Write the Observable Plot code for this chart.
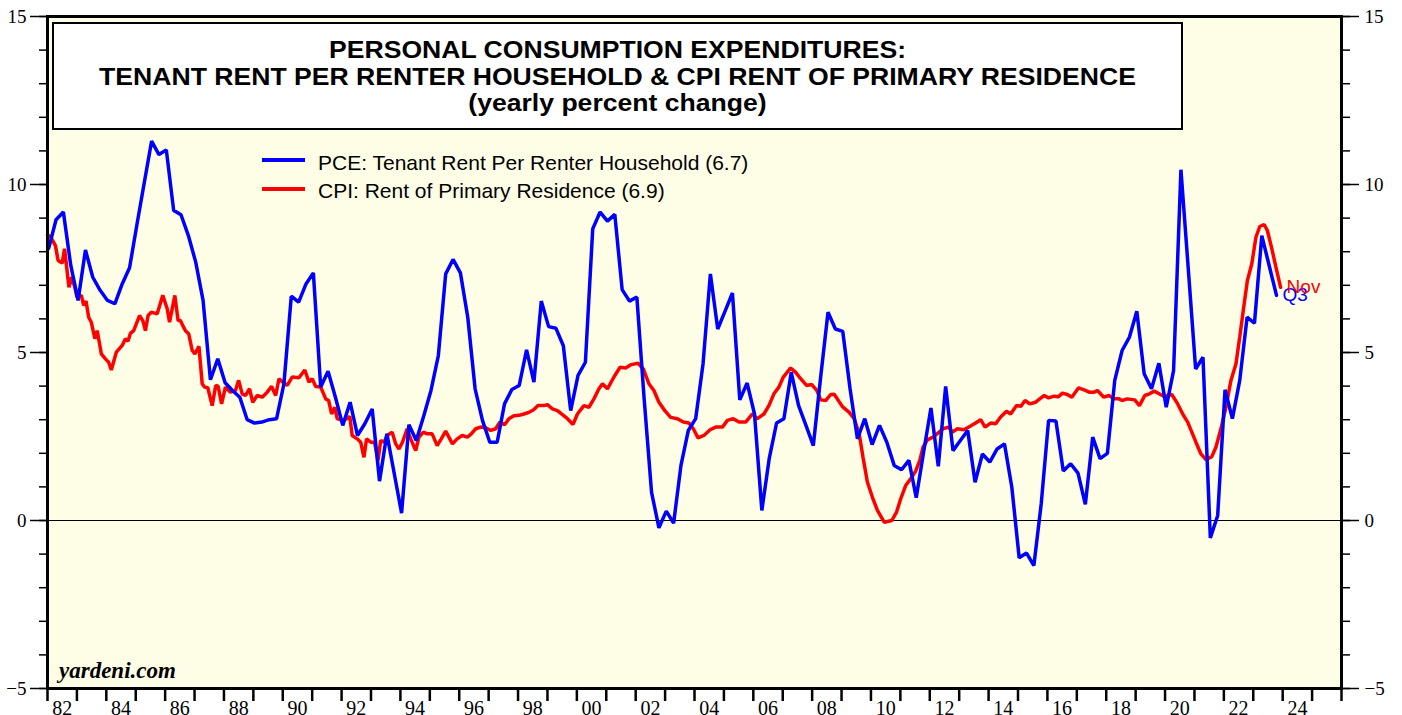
<!DOCTYPE html>
<html>
<head>
<meta charset="utf-8">
<script src="https://cdn.jsdelivr.net/npm/d3@7"></script>
<script src="https://cdn.jsdelivr.net/npm/@observablehq/plot@0.6"></script>
<style>
  html, body { margin: 0; padding: 0; background: #ffffff; }
  #wrap { position: relative; width: 1402px; height: 715px; overflow: hidden; }
  #wrap svg { position: absolute; left: 0; top: 0; }
  .titlebox {
    position: absolute; left: 52px; top: 22px; width: 1131px; height: 108px;
    box-sizing: border-box; border: 2px solid #000; background: #ffffff;
    padding-top: 13px; text-align: center; color: #000;
    font: bold 24.5px "Liberation Sans", Arial, Helvetica, sans-serif; line-height: 26.5px;
  }
  .titlebox div { transform: scaleX(1.085); transform-origin: 50% 50%; white-space: nowrap; }
  .legline { position: absolute; height: 4px; width: 43px; left: 262px; }
  .legtext { position: absolute; left: 318px; font: 21px "Liberation Sans", Arial, sans-serif; line-height: 21px; color: #000; white-space: nowrap; }
  .brand { position: absolute; left: 59px; top: 659px; font: italic bold 23px "Liberation Serif", "Times New Roman", serif; line-height: 23px; color: #000; }
</style>
</head>
<body>
<div id="wrap">
  <div id="chart"></div>
</div>
<script>
// ---------------- DATA ----------------
const titleLines = [
  "PERSONAL CONSUMPTION EXPENDITURES:",
  "TENANT RENT PER RENTER HOUSEHOLD & CPI RENT OF PRIMARY RESIDENCE",
  "(yearly percent change)"
];
const seriesNames = [
  "PCE: Tenant Rent Per Renter Household (6.7)",
  "CPI: Rent of Primary Residence (6.9)"
];
const seriesColors = ["#0000ff", "#ff0000"];
const endLabels = ["Q3", "Nov"];
const brandText = "yardeni.com";

// PCE tenant rent per renter household, yearly % change, quarterly, from 1981 Q4 to 2023 Q3
const pceStartYear = 1981;
const pceStartQuarter = 4;
const pceRent = [
  8.1, 8.95, 9.18, 7.6,
  6.55, 8.05, 7.24, 6.85,
  6.55, 6.45, 7.04, 7.52,
  8.8, 10.05, 11.29, 10.89,
  11.03, 9.23, 9.1, 8.48,
  7.69, 6.55, 4.19, 4.81,
  4.1, 3.87, 3.67, 3.0,
  2.9, 2.93, 3.0, 3.03,
  4.07, 6.68, 6.5, 7.04,
  7.37, 3.97, 4.44, 3.67,
  2.83, 3.52, 2.53, 2.88,
  3.32, 1.17, 2.58, 1.4,
  0.22, 2.85, 2.38, 3.1,
  3.87, 4.91, 7.34, 7.77,
  7.37, 6.05, 3.92, 2.98,
  2.33, 2.33, 3.47, 3.9,
  4.02, 5.08, 4.12, 6.53,
  5.77, 5.72, 5.2, 3.27,
  4.32, 4.71, 8.68, 9.18,
  8.91, 9.11, 6.87, 6.53,
  6.65, 3.6, 0.84, -0.22,
  0.28, -0.08, 1.64, 2.68,
  3.03, 4.66, 7.34, 5.7,
  6.23, 6.77, 3.59, 4.09,
  3.17, 0.3, 1.84, 2.9,
  3.03, 4.41, 3.42, 2.83,
  2.23, 4.27, 6.2, 5.7,
  5.63, 3.92, 2.43, 3.03,
  2.26, 2.83, 2.33, 1.64,
  1.51, 1.79, 0.68, 2.03,
  3.35, 1.61, 3.99, 2.08,
  2.38, 2.68, 1.14, 1.98,
  1.74, 2.13, 2.28, 0.99,
  -1.11, -0.97, -1.34, 0.5,
  2.98, 2.96, 1.47, 1.69,
  1.41, 0.48, 2.48, 1.84,
  2.0, 4.17, 5.06, 5.46,
  6.23, 4.37, 3.92, 4.68,
  3.37, 4.46, 10.44, 7.49,
  4.51, 4.86, -0.52, 0.15,
  3.89, 3.03, 4.17, 6.05,
  5.87, 8.48, 7.59, 6.7
];

// CPI rent of primary residence, yearly % change (dates as decimal years)
const cpiDates = [
  1982.0, 1982.1, 1982.27, 1982.36, 1982.5, 1982.58, 1982.73, 1982.82, 1982.93,
  1983.0, 1983.15, 1983.23, 1983.31, 1983.4, 1983.49, 1983.61, 1983.69, 1983.77, 1983.83, 1983.97,
  1984.08, 1984.17, 1984.34, 1984.54, 1984.65, 1984.74, 1984.82, 1984.93,
  1985.02, 1985.13, 1985.24, 1985.33, 1985.42, 1985.53, 1985.73, 1985.92,
  1986.07, 1986.15, 1986.33, 1986.44, 1986.52, 1986.6, 1986.69, 1986.8, 1986.92,
  1987.01, 1987.15, 1987.26, 1987.34, 1987.45, 1987.6, 1987.72, 1987.8, 1987.92,
  1988.05, 1988.22, 1988.39, 1988.5, 1988.62, 1988.73, 1988.87, 1988.98,
  1989.13, 1989.3, 1989.47, 1989.62, 1989.76, 1989.87,
  1990.0, 1990.15, 1990.32, 1990.55, 1990.75, 1990.89,
  1991.0, 1991.12, 1991.29, 1991.46, 1991.56, 1991.66, 1991.77, 1991.85,
  1992.02, 1992.19, 1992.28, 1992.36, 1992.53, 1992.65, 1992.76, 1992.85, 1992.99,
  1993.12, 1993.24, 1993.33, 1993.44, 1993.55, 1993.72, 1993.84, 1993.95,
  1994.07, 1994.23, 1994.35, 1994.52, 1994.63, 1994.78, 1994.91,
  1995.08, 1995.25, 1995.39, 1995.54, 1995.77, 1995.93,
  1996.1, 1996.28, 1996.41, 1996.56, 1996.73, 1996.9,
  1997.07, 1997.24, 1997.38, 1997.54, 1997.69, 1997.86,
  1998.03, 1998.2, 1998.37, 1998.52, 1998.68, 1998.88,
  1999.0, 1999.17, 1999.34, 1999.51, 1999.68, 1999.87,
  2000.02, 2000.24, 2000.41, 2000.58, 2000.75, 2000.87,
  2001.04, 2001.26, 2001.47, 2001.66, 2001.85,
  2002.08, 2002.26, 2002.45, 2002.62, 2002.79, 2002.99,
  2003.19, 2003.42, 2003.62, 2003.81, 2003.96,
  2004.12, 2004.32, 2004.53, 2004.72, 2004.95,
  2005.12, 2005.32, 2005.51, 2005.74, 2005.97,
  2006.14, 2006.36, 2006.53, 2006.7, 2006.87,
  2007.02, 2007.27, 2007.44, 2007.61, 2007.81, 2007.98,
  2008.16, 2008.29, 2008.46, 2008.63, 2008.75,
  2009.03, 2009.26, 2009.43, 2009.6, 2009.73, 2009.88,
  2010.05, 2010.22, 2010.45, 2010.71, 2010.87,
  2011.01, 2011.18, 2011.35, 2011.52, 2011.66, 2011.77, 2011.92,
  2012.11, 2012.32, 2012.45, 2012.64, 2012.77, 2012.94,
  2013.16, 2013.36, 2013.56, 2013.73, 2013.88,
  2014.07, 2014.24, 2014.41, 2014.61, 2014.75, 2014.95,
  2015.1, 2015.24, 2015.4, 2015.6, 2015.74, 2015.89,
  2016.04, 2016.23, 2016.37, 2016.51, 2016.68, 2016.83,
  2017.06, 2017.25, 2017.42, 2017.59, 2017.7, 2017.92,
  2018.09, 2018.27, 2018.44, 2018.54, 2018.71, 2018.97,
  2019.13, 2019.31, 2019.47, 2019.63, 2019.8, 2019.97,
  2020.23, 2020.43, 2020.6, 2020.77, 2020.91,
  2021.05, 2021.22, 2021.39, 2021.59, 2021.73, 2021.9,
  2022.07, 2022.24, 2022.41, 2022.54, 2022.66, 2022.8, 2022.95,
  2023.09, 2023.22, 2023.37, 2023.48, 2023.62, 2023.77, 2023.93
];
const cpiValues = [
  8.5, 8.45, 8.18, 7.74, 7.66, 8.09, 6.94, 7.24, 6.94,
  6.65, 6.7, 6.4, 6.53, 6.05, 5.9, 5.41, 5.65, 5.26, 4.96, 4.81,
  4.71, 4.48, 5.01, 5.21, 5.41, 5.34, 5.57, 5.65,
  5.85, 6.1, 5.95, 5.65, 6.1, 6.2, 6.15, 6.7,
  6.3, 5.9, 6.7, 5.95, 5.95, 5.8, 5.65, 5.56, 5.06,
  4.96, 5.18, 4.07, 3.97, 3.95, 3.42, 4.02, 4.0, 3.47,
  3.97, 3.82, 3.87, 4.17, 3.77, 3.72, 3.92, 3.52,
  3.72, 3.67, 3.82, 3.99, 3.72, 4.22,
  4.12, 4.02, 4.27, 4.25, 4.48, 4.12,
  4.22, 3.99, 3.97, 3.62, 3.57, 3.17, 3.37, 3.03,
  2.98, 3.03, 3.1, 2.53, 2.43, 2.33, 1.88, 2.43, 2.33,
  2.33, 1.79, 2.38, 2.33, 2.53, 2.63, 2.28, 2.13,
  2.33, 2.73, 2.43, 2.08, 2.48, 2.63, 2.58,
  2.58, 2.23, 2.43, 2.66, 2.28, 2.43,
  2.53, 2.48, 2.58, 2.73, 2.78, 2.76,
  2.68, 2.73, 2.93, 2.85, 3.03, 3.12,
  3.13, 3.17, 3.22, 3.29, 3.42, 3.42,
  3.45, 3.32, 3.27, 3.15, 3.03, 2.86,
  3.17, 3.42, 3.37, 3.62, 3.92, 4.07,
  3.92, 4.27, 4.56, 4.54, 4.64,
  4.68, 4.51, 4.07, 3.87, 3.52, 3.27,
  3.07, 3.03, 2.93, 2.9, 2.73,
  2.46, 2.53, 2.7, 2.78, 2.78,
  2.98, 3.03, 2.93, 2.93, 3.17,
  3.03, 3.17, 3.42, 3.77, 3.97,
  4.27, 4.54, 4.41, 4.22, 4.02, 4.05,
  3.87, 3.59, 3.57, 3.75, 3.76,
  3.39, 3.22, 3.03, 2.58, 1.88, 1.14,
  0.69, 0.3, -0.05, 0.0, 0.25,
  0.64, 1.04, 1.24, 1.47, 1.79, 2.18, 2.4,
  2.48, 2.63, 2.73, 2.78, 2.63, 2.73,
  2.7, 2.8, 2.9, 3.0, 2.78,
  2.9, 2.88, 3.08, 3.25, 3.17, 3.42,
  3.4, 3.57, 3.47, 3.52, 3.62, 3.72,
  3.65, 3.7, 3.68, 3.79, 3.75, 3.67,
  3.95, 3.89, 3.82, 3.82, 3.87, 3.67,
  3.72, 3.62, 3.62, 3.57, 3.62, 3.59,
  3.42, 3.72, 3.77, 3.85, 3.77, 3.69,
  3.75, 3.47, 3.17, 2.93, 2.63,
  2.33, 1.98, 1.81, 1.9, 2.18, 2.73,
  3.37, 4.17, 4.66, 5.46, 6.25, 7.14, 7.64,
  8.43, 8.75, 8.81, 8.63, 8.13, 7.54, 6.94
];

const yearTicks = d3.range(1982, 2027);
const yearLabels = d3.range(1982, 2025, 2);
const yMinorTicks = d3.range(-5, 16);
const yMajorTicks = [-5, 0, 5, 10, 15];

// --------------- BUILD ---------------
const pce = pceRent.map((v, i) => ({t: pceStartYear + (pceStartQuarter + i) * 0.25 + 0.04, v}));
const cpi = cpiDates.map((t, i) => ({t, v: cpiValues[i]}));
const ends = [
  {...pce[pce.length - 1], label: endLabels[0], color: seriesColors[0]},
  {...cpi[cpi.length - 1], label: endLabels[1], color: seriesColors[1]}
];

const serif = '"Liberation Serif", "Times New Roman", Times, serif';
const sans = '"Liberation Sans", Arial, Helvetica, sans-serif';

const chart = Plot.plot({
  width: 1402,
  height: 715,
  marginLeft: 47,
  marginRight: 61,
  marginTop: 16,
  marginBottom: 27,
  x: {type: "linear", domain: [1982, 2026]},
  y: {domain: [-5, 15]},
  style: {fontFamily: serif, fontSize: "19px", color: "#000", background: "transparent"},
  marks: [
    Plot.frame({fill: "#fefee6", stroke: null}),
    Plot.ruleY([0], {stroke: "#000", strokeWidth: 1}),
    Plot.line(cpi, {x: "t", y: "v", stroke: seriesColors[1], strokeWidth: 3.5, strokeLinejoin: "miter"}),
    Plot.line(pce, {x: "t", y: "v", stroke: seriesColors[0], strokeWidth: 3.5, strokeLinejoin: "miter"}),
    Plot.text(ends, {x: "t", y: "v", text: "label", fill: "color", textAnchor: "start", dx: 6, fontSize: 19, fontFamily: sans}),
    // y axes, left
    Plot.axisY(yMinorTicks, {anchor: "left", tickSize: 8, tickFormat: () => "", strokeWidth: 1.5, label: null}),
    Plot.axisY(yMajorTicks, {anchor: "left", tickSize: 17, tickPadding: 4, strokeWidth: 1.5, label: null, fontSize: 19}),
    // y axes, right
    Plot.axisY(yMinorTicks, {anchor: "right", tickSize: 8, tickFormat: () => "", strokeWidth: 1.5, label: null}),
    Plot.axisY(yMajorTicks, {anchor: "right", tickSize: 17, tickPadding: 6, strokeWidth: 1.5, label: null, fontSize: 19}),
    // x axis
    Plot.axisX(yearTicks, {anchor: "bottom", tickSize: 13, tickFormat: () => "", strokeWidth: 2.5, label: null}),
    Plot.axisX(yearLabels.map(y => y + 0.5), {anchor: "bottom", tickSize: 0, tickPadding: 12, label: null, fontSize: 20,
      tickFormat: d => String(Math.floor(d) % 100).padStart(2, "0")}),
    Plot.frame({stroke: "#000", strokeWidth: 3})
  ]
});

const wrap = document.getElementById("wrap");
document.getElementById("chart").appendChild(chart);

// title box
const tb = document.createElement("div");
tb.className = "titlebox";
titleLines.forEach(t => { const d = document.createElement("div"); d.textContent = t; tb.appendChild(d); });
wrap.appendChild(tb);

// legend
[[158, 152], [187, 180]].forEach(([ly, ty], i) => {
  const l = document.createElement("div");
  l.className = "legline";
  l.style.top = ly + "px";
  l.style.background = seriesColors[i];
  wrap.appendChild(l);
  const t = document.createElement("div");
  t.className = "legtext";
  t.style.top = ty + "px";
  t.textContent = seriesNames[i];
  wrap.appendChild(t);
});

// brand
const b = document.createElement("div");
b.className = "brand";
b.textContent = brandText;
wrap.appendChild(b);
</script>
</body>
</html>
